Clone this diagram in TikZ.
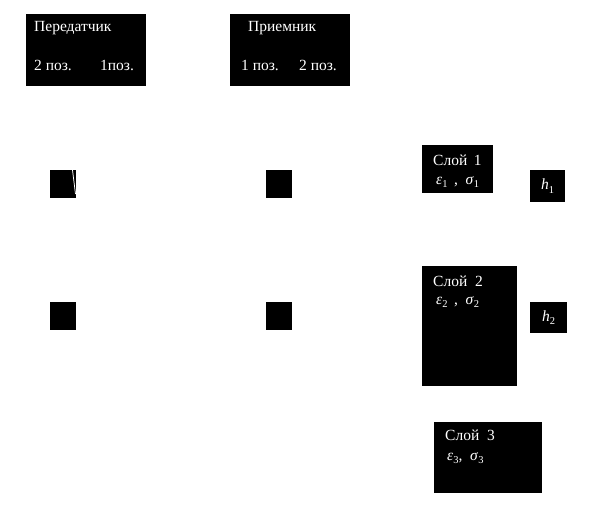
\documentclass[tikz,border=0pt]{standalone}
\usepackage{fontspec}
\setmainfont{Liberation Serif}
\newcommand\lsub[1]{\raisebox{-0.45ex}{\fontsize{10.5}{11}\selectfont #1}}
\begin{document}
\begin{tikzpicture}[x=1pt,y=-1pt,
  blk/.style={fill=black,draw=none,inner sep=0pt,anchor=north west},
  lbl/.style={text=white,inner sep=0pt,anchor=west,font=\fontsize{15.5}{17}\selectfont},
  clbl/.style={text=white,inner sep=0pt,font=\fontsize{15.5}{17}\selectfont}]
\useasboundingbox[fill=white] (0,0) rectangle (615,507);
% top boxes
\node[blk,minimum width=120pt,minimum height=72pt] (tx) at (26,14) {};
\node[blk,minimum width=120pt,minimum height=72pt] (rx) at (230,14) {};
\node[lbl] (txname) at (34,28) {Передатчик};
\node[lbl] (tx2) at (34,65) {2 поз.};
\node[lbl] (tx1) at (100,65) {1поз.};
\node[lbl] (rxname) at (248,28) {Приемник};
\node[lbl] (rx1) at (241,65) {1 поз.};
\node[lbl] (rx2) at (299,65) {2 поз.};
% small squares
\node[blk,minimum width=26pt,minimum height=28pt] (s11) at (50,170) {};
\node[blk,minimum width=26pt,minimum height=28pt] (s12) at (266,170) {};
\node[blk,minimum width=26pt,minimum height=28pt] (s21) at (50,302) {};
\node[blk,minimum width=26pt,minimum height=28pt] (s22) at (266,302) {};
\coordinate (w1) at (72.5,170);
\coordinate (w2) at (75.5,194);
\draw[white,line width=0.8pt] (w1) -- (w2);
% layers
\node[blk,minimum width=71pt,minimum height=48pt] (l1) at (422,145) {};
\node[lbl] (l1name) at (433,160) {Слой~\,1};
\node[lbl] (l1par) at (436,182) {\textit{ε}\lsub{1}\,~,~~\textit{σ}\lsub{1}};
\node[blk,minimum width=35pt,minimum height=32pt] (h1box) at (530,170) {};
\node[clbl] (h1) at (h1box.center) {\textit{h}\lsub{1}};
\node[blk,minimum width=95pt,minimum height=120pt] (l2) at (422,266) {};
\node[lbl] (l2name) at (433,281) {Слой~~2};
\node[lbl] (l2par) at (436,302) {\textit{ε}\lsub{2}\,~,~~\textit{σ}\lsub{2}};
\node[blk,minimum width=37pt,minimum height=31pt] (h2box) at (530,302) {};
\node[clbl] (h2) at (h2box.center) {\textit{h}\lsub{2}};
\node[blk,minimum width=108pt,minimum height=71pt] (l3) at (434,422) {};
\node[lbl] (l3name) at (445,435) {Слой~~3};
\node[lbl] (l3par) at (447,458) {\textit{ε}\lsub{3},~~\textit{σ}\lsub{3}};
\end{tikzpicture}
\end{document}
